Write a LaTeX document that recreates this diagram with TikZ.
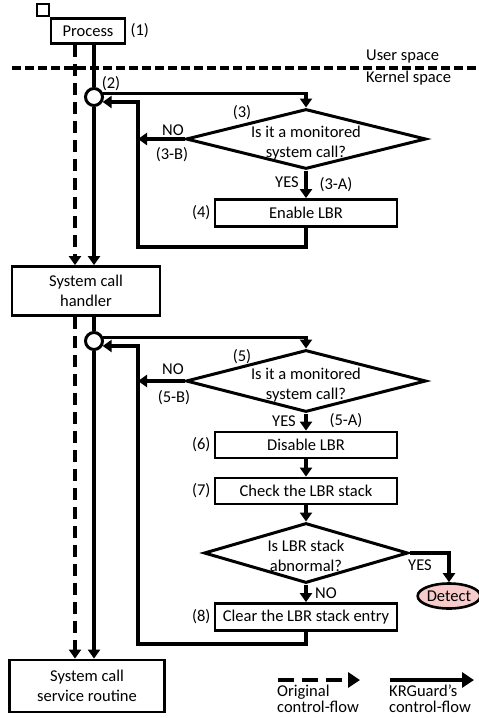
\documentclass[tikz,border=0pt]{standalone}
\usepackage{fontspec}
\setmainfont{Carlito}
\usetikzlibrary{arrows.meta,calc,positioning,shapes.geometric}
\definecolor{detectpink}{RGB}{248,203,203}
\tikzset{
  caja/.style={
    draw,
    line width=2.8pt,
    minimum width=182pt,
    minimum height=27pt,
    inner sep=0pt,
    align=center
  },
  rombo/.style={
    diamond,
    draw,
    line width=3pt,
    inner sep=0pt,
    minimum width=240pt,
    minimum height=60pt
  },
  nudo/.style={
    circle,
    draw,
    line width=3pt,
    minimum size=17pt,
    inner sep=0pt
  },
  tag/.style={inner sep=1pt},
  flow/.style={line width=3.2pt},
  arrow/.style={
    -{Triangle[length=9pt,width=12pt]},
    line width=3.2pt
  },
  orig/.style={
    -{Triangle[length=9pt,width=12pt]},
    line width=3.6pt,
    dash pattern=on 12pt off 7pt
  }
}

\begin{document}
\begin{tikzpicture}[x=1pt,y=-1pt,font=\fontsize{16.5}{20}\selectfont]
\useasboundingbox (0,0) rectangle (479,718);

% user / kernel separation
\coordinate (sepl) at (12,68);
\coordinate (sepr) at (479,68);
\draw[line width=3.4pt, dash pattern=on 9pt off 4pt] (sepl) -- (sepr);
\node[tag, anchor=west] (us) at (365,57) {User space};
\node[tag, anchor=west] (ks) at (365,78) {Kernel space};

% left column
\node[caja, minimum width=74pt, minimum height=25pt] (proc) at (88,31) {Process};
\node[draw, line width=2.6pt, minimum size=12pt, inner sep=0pt] (start) at (43,10) {};
\node[tag, right=3pt of proc] (t1) {(1)};
\node[caja, minimum width=148pt, minimum height=49pt] (handler) at (86,291) {System call\\handler};
\node[caja, minimum width=155pt, minimum height=52pt] (routine) at (87,686) {System call\\service routine};
\node[nudo] (c1) at (94,97) {};
\node[nudo] (c2) at (94,341) {};
\coordinate (dx) at (75,0);
\coordinate (lx) at (138,0);

% first check
\node[rombo, label={[align=center, yshift=-4pt]center:Is it a monitored\\system call?}] (d1) at (306,139) {};
\node[caja] (enable) at (306,213) {Enable LBR};
\coordinate (loop1) at (138,247);

% second check
\node[rombo, minimum height=62pt, label={[align=center, yshift=-4pt]center:Is it a monitored\\system call?}] (d2) at (306,381) {};
\node[caja, minimum height=26pt] (disable) at (306,445) {Disable LBR};
\node[caja, minimum height=26pt] (check) at (306,491) {Check the LBR stack};
\node[rombo, minimum width=204pt, label={[align=center, yshift=-3pt]center:Is LBR stack\\abnormal?}] (d3) at (306,553) {};
\node[caja] (clear) at (306,617) {Clear the LBR stack entry};
\node[ellipse, draw, line width=2.6pt, fill=detectpink, minimum width=61pt, minimum height=25pt, inner sep=0pt] (detect) at (449,596) {Detect};
\coordinate (loop2) at (138,644);

% labels
\node[tag] at (111,84) {(2)};
\node[tag] at (242,113) {(3)};
\node[tag] at (173,130) {NO};
\node[tag] at (172,155) {(3-B)};
\node[tag] at (287,182) {YES};
\node[tag] at (336,185) {(3-A)};
\node[tag, left=2pt of enable] {(4)};
\node[tag] at (242,357) {(5)};
\node[tag] at (173,369) {NO};
\node[tag] at (174,398) {(5-B)};
\node[tag] at (284,421) {YES};
\node[tag] at (346,421) {(5-A)};
\node[tag, left=2pt of disable] {(6)};
\node[tag, left=2pt of check] {(7)};
\node[tag] at (420,565) {YES};
\node[tag] at (326,593) {NO};
\node[tag, left=2pt of clear] {(8)};

% original control-flow
\draw[orig] (proc.south -| dx) -- (handler.north -| dx);
\draw[orig] (handler.south -| dx) -- (routine.north -| dx);

% krguard control-flow
\draw[flow] (proc.south -| c1) -- (c1.north);
\draw[arrow] (c1.south) -- (handler.north -| c1);
\draw[arrow] (c1.20) -| (d1.north);
\draw[arrow] (d1.west) -- (d1.west -| lx);
\draw[arrow] (d1.south) -- (enable.north);
\draw[arrow] (enable.south) |- (loop1) |- (c1.-30);

\draw[flow] (handler.south -| c2) -- (c2.north);
\draw[arrow] (c2.south) -- (routine.north -| c2);
\draw[arrow] (c2.20) -| (d2.north);
\draw[arrow] (d2.west) -- (d2.west -| lx);
\draw[arrow] (d2.south) -- (disable.north);
\draw[arrow] (disable.south) -- (check.north);
\draw[arrow] (check.south) -- (d3.north);
\draw[arrow] (d3.east) -| (detect.north);
\draw[arrow] (d3.south) -- (clear.north);
\draw[arrow] (clear.south) |- (loop2) |- (c2.-30);

% legend
\coordinate (la) at (278,680);
\coordinate (lb) at (360,680);
\coordinate (lc) at (390,680);
\coordinate (ld) at (474,680);
\draw[orig, -{Triangle[length=12pt,width=15pt]}, dash pattern=on 16pt off 8pt] (la) -- (lb);
\draw[arrow, -{Triangle[length=12pt,width=15pt]}] (lc) -- (ld);
\node[tag, anchor=north west, align=left, font=\fontsize{16.5}{16}\selectfont] (lt1) at (276,684) {Original\\control-flow};
\node[tag, anchor=north west, align=left, font=\fontsize{16.5}{16}\selectfont] (lt2) at (388,684) {KRGuard’s\\control-flow};
\end{tikzpicture}
\end{document}
